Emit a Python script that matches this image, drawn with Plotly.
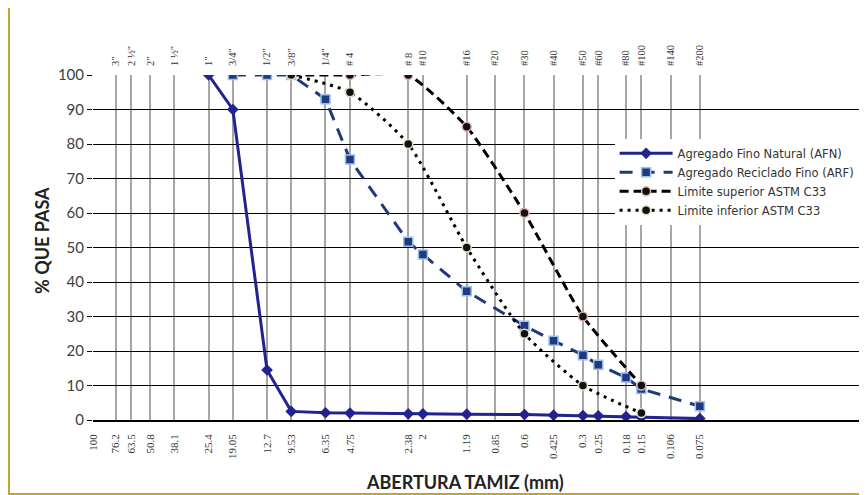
import plotly.graph_objects as go

# Sieve openings (mm) and labels
sieve_mm = [100, 76.2, 63.5, 50.8, 38.1, 25.4, 19.05, 12.7, 9.53, 6.35, 4.75,
            2.38, 2, 1.19, 0.85, 0.6, 0.425, 0.3, 0.25, 0.18, 0.15, 0.106, 0.075]
bottom_labels = ["100", "76.2", "63.5", "50.8", "38.1", "25.4", "19.05", "12.7", "9.53",
                 "6.35", "4.75", "2.38", "2", "1.19", "0.85", "0.6", "0.425", "0.3",
                 "0.25", "0.18", "0.15", "0.106", "0.075"]
top_labels = ["", "3\"", "2 ½\"", "2\"", "1 ½\"", "1\"", "3/4\"", "1/2\"", "3/8\"", "1/4\"",
              "# 4", "# 8", "#10", "#16", "#20", "#30", "#40", "#50", "#60", "#80",
              "#100", "#140", "#200"]

# Agregado Fino Natural (AFN)
afn_x = [25.4, 19.05, 12.7, 9.53, 6.35, 4.75, 2.38, 2, 1.19, 0.6, 0.425, 0.3, 0.25, 0.18, 0.15, 0.075]
afn_y = [100, 90, 14.5, 2.5, 2.1, 2.0, 1.8, 1.8, 1.7, 1.6, 1.4, 1.3, 1.2, 1.0, 0.8, 0.4]

# Agregado Reciclado Fino (ARF)
arf_x = [19.05, 12.7, 9.53, 6.35, 4.75, 2.38, 2, 1.19, 0.6, 0.425, 0.3, 0.25, 0.18, 0.15, 0.075]
arf_y = [100, 100, 100, 93, 75.5, 51.7, 48, 37.3, 27.3, 23, 18.8, 16, 12.3, 9, 4]

# Limite superior ASTM C33
sup_x = [9.53, 4.75, 2.38, 1.19, 0.6, 0.3, 0.15]
sup_y = [100, 100, 100, 85, 60, 30, 10]

# Limite inferior ASTM C33
inf_x = [9.53, 4.75, 2.38, 1.19, 0.6, 0.3, 0.15]
inf_y = [100, 95, 80, 50, 25, 10, 2]

fig = go.Figure()

fig.add_trace(go.Scatter(
    x=afn_x, y=afn_y, mode="lines+markers", name="Agregado Fino Natural (AFN)",
    line=dict(color="#23238f", width=3),
    marker=dict(symbol="diamond", size=9, color="#23238f"),
))
fig.add_trace(go.Scatter(
    x=arf_x, y=arf_y, mode="lines+markers", name="Agregado Reciclado Fino (ARF)",
    line=dict(color="#1f3a78", width=3, dash="13px,9px"),
    marker=dict(symbol="square", size=9, color="#1f3a82", line=dict(color="#9ec0e8", width=1.5)),
))
fig.add_trace(go.Scatter(
    x=sup_x, y=sup_y, mode="lines+markers", name="Limite superior ASTM C33",
    line=dict(color="#000000", width=3, dash="9px,5px", shape="spline", smoothing=0.5),
    marker=dict(symbol="circle", size=9, color="#111111", line=dict(color="#e6b0b0", width=1.5)),
))
fig.add_trace(go.Scatter(
    x=inf_x, y=inf_y, mode="lines+markers", name="Limite inferior ASTM C33",
    line=dict(color="#000000", width=3, dash="3px,5px", shape="spline", smoothing=0.6),
    marker=dict(symbol="circle", size=9, color="#111111", line=dict(color="#d8e4c0", width=1.5)),
))
# invisible trace to anchor the top (inch / mesh) axis
fig.add_trace(go.Scatter(
    x=[sieve_mm[0]], y=[sup_y[0]], xaxis="x2", mode="markers",
    marker=dict(opacity=0), showlegend=False, hoverinfo="skip",
))

XR = [2, -2.027]

fig.update_layout(
    width=867, height=495,
    margin=dict(l=85, r=0, t=67, b=83, autoexpand=False),
    paper_bgcolor="white", plot_bgcolor="white",
    font=dict(family="Liberation Sans", color="#333333"),
    xaxis=dict(
        type="log", range=XR,
        tickmode="array", tickvals=sieve_mm, ticktext=bottom_labels,
        tickangle=-90, ticks="", ticklabelstandoff=8,
        tickfont=dict(family="Liberation Serif", size=11, color="#333333"),
        showgrid=True, gridcolor="#a6a6a6", gridwidth=2,
        showline=True, linecolor="#000000", linewidth=1.5,
        zeroline=False,
    ),
    xaxis2=dict(
        type="log", range=XR, overlaying="x", side="top", anchor="y",
        tickmode="array", tickvals=sieve_mm, ticktext=top_labels,
        tickangle=-90, ticks="", ticklabelstandoff=8,
        tickfont=dict(family="Liberation Serif", size=10.5, color="#333333"),
        showgrid=False, showline=False, zeroline=False,
    ),
    yaxis=dict(
        range=[0, 100], dtick=10, tick0=0,
        ticks="outside", ticklen=5, tickcolor="#000000",
        tickfont=dict(family="Lato", size=15, color="#404040"),
        showgrid=True, gridcolor="#000000", gridwidth=1,
        showline=False, zeroline=False,
    ),
    legend=dict(
        x=0.667, y=0.815, xanchor="left", yanchor="top",
        bgcolor="white", borderwidth=0,
        font=dict(family="DejaVu Sans", size=11.5, color="#333333"),
        tracegroupgap=0, itemwidth=53,
    ),
    showlegend=True,
)

fig.add_annotation(
    text="<b>% QUE PASA</b>", xref="paper", yref="paper",
    x=-0.066, y=0.52, xanchor="center", yanchor="middle",
    textangle=-90, showarrow=False,
    font=dict(family="Lato", size=18, color="#222222"),
)
fig.add_annotation(
    text="<b>ABERTURA TAMIZ (mm)</b>", xref="paper", yref="paper",
    x=0.476, y=-0.18, xanchor="center", yanchor="middle", showarrow=False,
    font=dict(family="Lato", size=18, color="#222222"),
)

fig.add_shape(
    type="rect", xref="paper", yref="paper",
    x0=-0.1074, x1=1.02, y0=-0.2145, y1=1.2,
    line=dict(color="#bfa62c", width=2), layer="below",
)

fig.write_html("out.html")
